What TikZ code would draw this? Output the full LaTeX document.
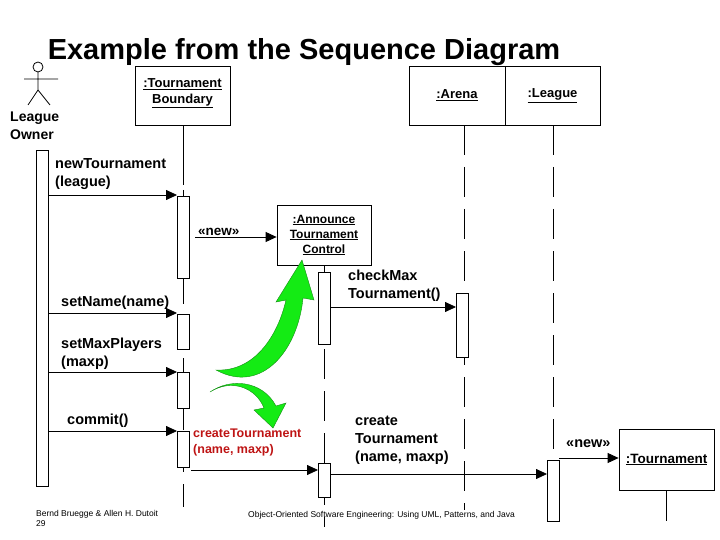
\documentclass[tikz,border=0pt]{standalone}
\usepackage{fontspec}
\setmainfont{Liberation Sans}
\usetikzlibrary{arrows.meta}
\definecolor{brightgreen}{RGB}{20,235,20}
\definecolor{darkgreen}{RGB}{20,140,20}
\definecolor{msgred}{RGB}{190,20,20}
\begin{document}
\begin{tikzpicture}[x=1pt,y=-1pt,
  obj/.style={draw,thick,fill=white,minimum height=59pt,align=center,font=\fontsize{13}{16}\selectfont\bfseries,inner sep=1pt},
  act/.style={draw,thick,fill=white},
  life/.style={thick,dash pattern=on 30pt off 12pt},
  msg/.style={thick,-{Triangle[length=11pt,width=10pt]}},
  lbl/.style={anchor=west,align=left,font=\fontsize{14.5}{18}\selectfont\bfseries,inner sep=0pt}]
\useasboundingbox (0,0) rectangle (720,540);

% title
\node[font=\fontsize{29}{32}\selectfont\bfseries] (title) at (304,52) {Example from the Sequence Diagram};

% actor
\draw[thick] (38,67) circle (5);
\draw[thick] (38,72) -- (38,90) (24,79) -- (58,79) (38,90) -- (28,105) (38,90) -- (50,105);
\node[lbl,font=\fontsize{14}{18}\selectfont\bfseries] (owner) at (10,126) {League\\Owner};

% lifelines
\draw[thick] (183,125) -- (183,185);
\draw[life] (183,190) -- (183,507);
\draw[life] (324,265) -- (324,527);
\draw[life] (464,125) -- (464,510);
\draw[life] (553,125) -- (553,521);
\draw[thick] (666,490) -- (666,521);

% objects
\node[obj,minimum width=95pt] (tb) at (182.5,96) {\underline{:Tournament}\\\underline{Boundary}\\[-6pt]};
\node[obj,minimum width=96pt] (arena) at (457,95.5) {\underline{:Arena}};
\node[obj,minimum width=95pt] (league) at (552.5,95.5) {\underline{:League}};
\node[obj,minimum width=94pt,minimum height=60pt,font=\fontsize{12}{15}\selectfont\bfseries] (atc) at (324,235) {\underline{:Announce}\\\underline{Tournament}\\\underline{Control}};
\node[obj,minimum width=95pt,minimum height=61pt,font=\fontsize{13.5}{16}\selectfont\bfseries] (tour) at (666.5,459.5) {\underline{:Tournament}};

% activations
\draw[act] (36,150) rectangle (48,486);
\draw[act] (177,196) rectangle (189,278);
\draw[act] (177,314) rectangle (189,349);
\draw[act] (177,372) rectangle (189,408);
\draw[act] (177,431) rectangle (189,467);
\draw[act] (318,272) rectangle (330,344);
\draw[act] (456,293) rectangle (468,357);
\draw[act] (318,463) rectangle (330,497);

% footer
\node[anchor=west,font=\fontsize{8.5}{9}\selectfont,inner sep=0pt] (foot) at (248,515) {Object-Oriented Software Engineering: Using UML, Patterns, and Java};
\node[anchor=west,align=left,font=\fontsize{8.5}{10}\selectfont,inner sep=0pt] (authors) at (36,518) {Bernd Bruegge \& Allen H. Dutoit\\29};
\draw[act] (547,460) rectangle (559,521);

% messages
\coordinate (m1a) at (48,195);  \coordinate (m1b) at (177,195);
\coordinate (m2a) at (195,237); \coordinate (m2b) at (atc.west |- m2a);
\coordinate (m3a) at (48,313);  \coordinate (m3b) at (177,313);
\coordinate (m4a) at (48,372);  \coordinate (m4b) at (177,372);
\coordinate (m5a) at (48,431);  \coordinate (m5b) at (177,431);
\coordinate (m6a) at (330,307); \coordinate (m6b) at (456,307);
\coordinate (m7a) at (191,470); \coordinate (m7b) at (318,470);
\coordinate (m8a) at (330,474); \coordinate (m8b) at (547,474);
\coordinate (m9a) at (559,458); \coordinate (m9b) at (tour.west |- m9a);
\draw[msg] (m1a) -- (m1b);
\draw[msg] (m2a) -- (m2b);
\draw[msg] (m3a) -- (m3b);
\draw[msg] (m4a) -- (m4b);
\draw[msg] (m5a) -- (m5b);
\draw[msg] (m6a) -- (m6b);
\draw[msg] (m7a) -- (m7b);
\draw[msg] (m8a) -- (m8b);
\draw[msg] (m9a) -- (m9b);

\node[lbl] (l1) at (55,174) {newTournament\\(league)};
\node[lbl,font=\fontsize{13.5}{16}\selectfont\bfseries] (l2) at (198,232) {«new»};
\node[lbl] (l3) at (61,303) {setName(name)};
\node[lbl] (l4) at (61,354) {setMaxPlayers\\(maxp)};
\node[lbl] (l5) at (67,421) {commit()};
\node[lbl] (l6) at (348,286) {checkMax\\Tournament()};
\node[lbl,text=msgred,font=\fontsize{12.5}{16}\selectfont\bfseries] (l7) at (193,442) {createTournament\\(name, maxp)};
\node[lbl] (l8) at (355,440) {create\\Tournament\\(name, maxp)};
\node[lbl] (l9) at (566,444) {«new»};

% green arrows
\fill[brightgreen,draw=darkgreen] (216,370) .. controls (255,372) and (278,335) .. (286,300)
  -- (276,302) -- (302,260) -- (314,300) -- (303,298)
  .. controls (298,350) and (262,395) .. (216,370) -- cycle;
\fill[brightgreen,draw=darkgreen] (210,392) .. controls (232,378) and (256,388) .. (264,408)
  -- (254,410) -- (273,428) -- (286,403) -- (276,406)
  .. controls (262,380) and (230,378) .. (210,392) -- cycle;
\end{tikzpicture}
\end{document}
